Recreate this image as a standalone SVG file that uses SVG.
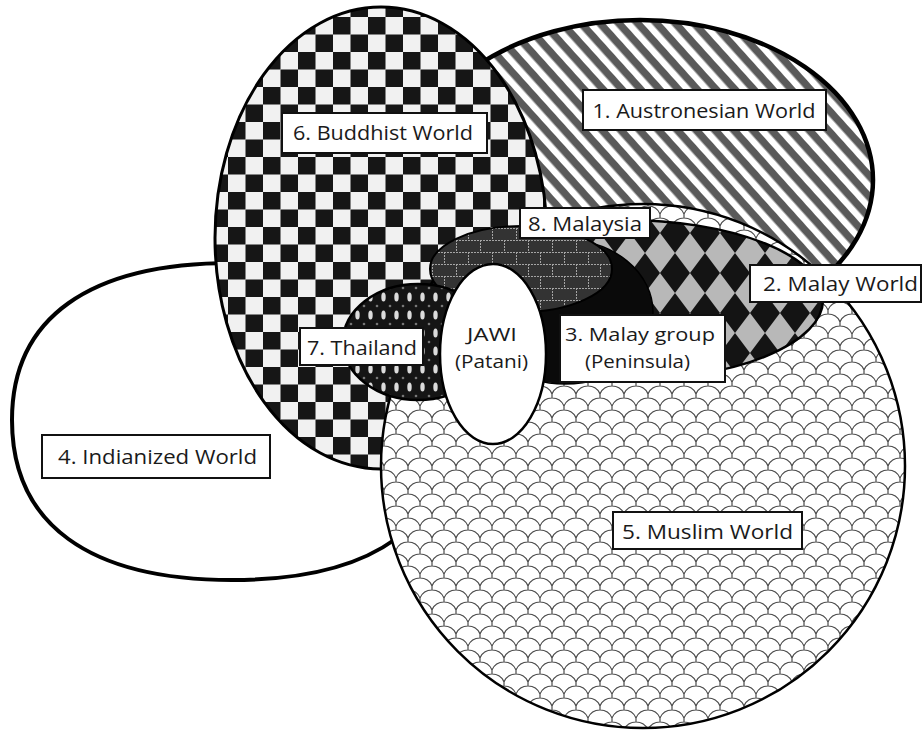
<svg xmlns="http://www.w3.org/2000/svg" width="923" height="736" viewBox="0 0 923 736">
<style>
.lbl{fill:#fff;stroke:#111;stroke-width:2}
.t{font-family:"Open Sans","Liberation Sans",sans-serif;font-size:20px;fill:#1a1a1a;text-anchor:middle}
.t2{font-size:19px}
</style>
<defs>
<pattern id="stripes" patternUnits="userSpaceOnUse" width="14" height="14" patternTransform="rotate(48)">
<rect width="14" height="14" fill="#fff"/>
<rect width="14" height="7.5" fill="#5a5a5a"/>
</pattern>
<pattern id="checker" patternUnits="userSpaceOnUse" x="18" y="17" width="35" height="35">
<rect width="35" height="35" fill="#f1f1f1"/>
<rect width="17.5" height="17.5" fill="#161616"/>
<rect x="17.5" y="17.5" width="17.5" height="17.5" fill="#161616"/>
</pattern>
<pattern id="scales" patternUnits="userSpaceOnUse" width="24" height="24">
<rect width="24" height="24" fill="#fff"/>
<path d="M0,10A13,13 0 0 1 24,10M-12,22A13,13 0 0 1 12,22A13,13 0 0 1 36,22M0,10V14M24,10V14M12,22V26M12,-2V2" fill="none" stroke="#4a4a4a" stroke-width="1.2"/>
</pattern>
<pattern id="diamonds" patternUnits="userSpaceOnUse" x="15" y="33" width="30" height="40">
<rect width="30" height="40" fill="#141414"/>
<polygon points="15,0 30,20 15,40 0,20" fill="#b8b8b8"/>
</pattern>
<pattern id="brick" patternUnits="userSpaceOnUse" width="24" height="24">
<rect width="24" height="24" fill="#333"/>
<path d="M0,0.5H24M0,12.5H24M0.5,0V12M12.5,12V24" stroke="#a5a5a5" stroke-width="1" stroke-dasharray="2 1"/>
</pattern>
<pattern id="dots" patternUnits="userSpaceOnUse" width="13" height="18">
<rect width="13" height="18" fill="#151515"/>
<circle cx="0" cy="0" r="1.3" fill="#777"/>
<circle cx="13" cy="0" r="1.3" fill="#777"/>
<circle cx="0" cy="18" r="1.3" fill="#777"/>
<circle cx="13" cy="18" r="1.3" fill="#777"/>
<ellipse cx="6.5" cy="9" rx="2.2" ry="4.6" fill="#dcdcdc"/>
</pattern>
</defs>
<rect width="923" height="736" fill="#fff"/>

<g id="indianized">
<path d="M12,420C12,318 89,263 232,263C375,263 452,318 452,420C452,524 375,580 232,580C89,580 12,524 12,420Z" fill="#fff" stroke="#000" stroke-width="4"/>
<rect class="lbl" x="42" y="435" width="228" height="43"/>
<text class="t" x="157.5" y="464" textLength="199" lengthAdjust="spacingAndGlyphs">4. Indianized World</text>
</g>

<g id="austronesian">
<ellipse cx="640" cy="180" rx="233" ry="160" fill="url(#stripes)" stroke="#000" stroke-width="4.5"/>
<rect class="lbl" x="583" y="90" width="243" height="40"/>
<text class="t" x="704" y="118" textLength="223" lengthAdjust="spacingAndGlyphs">1. Austronesian World</text>
</g>

<g id="buddhist">
<ellipse cx="381" cy="238" rx="166" ry="231" fill="url(#checker)" stroke="#000" stroke-width="3"/>
<rect class="lbl" x="282" y="113" width="205" height="40"/>
<text class="t" x="383" y="140" textLength="180" lengthAdjust="spacingAndGlyphs">6. Buddhist World</text>
</g>

<g id="muslim">
<circle cx="643" cy="466" r="262" fill="url(#scales)" stroke="#000" stroke-width="2.5"/>
<rect class="lbl" x="613" y="512" width="189" height="37"/>
<text class="t" x="707.5" y="539" textLength="171" lengthAdjust="spacingAndGlyphs">5. Muslim World</text>
</g>

<g id="malay-world">
<ellipse cx="625" cy="300" rx="198" ry="80" fill="url(#diamonds)" stroke="#000" stroke-width="2.5"/>
<rect class="lbl" x="750" y="265" width="171" height="37"/>
<text class="t" x="840.5" y="291" textLength="155" lengthAdjust="spacingAndGlyphs">2. Malay World</text>
</g>

<g id="malay-group">
<ellipse cx="565" cy="312" rx="88" ry="72" fill="#0a0a0a" stroke="#000" stroke-width="1.5"/>
<rect class="lbl" x="560" y="315" width="165" height="67"/>
<text class="t t2" x="640" y="341" textLength="150" lengthAdjust="spacingAndGlyphs">3. Malay group</text>
<text class="t t2" x="637.5" y="368" textLength="105" lengthAdjust="spacingAndGlyphs">(Peninsula)</text>
</g>

<g id="malaysia">
<ellipse cx="521" cy="269" rx="91" ry="43" fill="url(#brick)" stroke="#000" stroke-width="2"/>
<rect class="lbl" x="520" y="208" width="130" height="30"/>
<text class="t" x="585" y="231" textLength="114" lengthAdjust="spacingAndGlyphs">8. Malaysia</text>
</g>

<g id="thailand">
<ellipse cx="418" cy="342" rx="75" ry="58" fill="url(#dots)" stroke="#000" stroke-width="2.5"/>
<rect class="lbl" x="300" y="328" width="123" height="37"/>
<text class="t" x="362" y="355" textLength="110" lengthAdjust="spacingAndGlyphs">7. Thailand</text>
</g>

<g id="jawi">
<ellipse cx="493" cy="354" rx="53" ry="90" fill="#fff" stroke="#000" stroke-width="2.5"/>
<text class="t t2" x="492" y="341" textLength="50" lengthAdjust="spacingAndGlyphs">JAWI</text>
<text class="t t2" x="491.5" y="368" textLength="73" lengthAdjust="spacingAndGlyphs">(Patani)</text>
</g>

<g id="connectors"/>
</svg>
